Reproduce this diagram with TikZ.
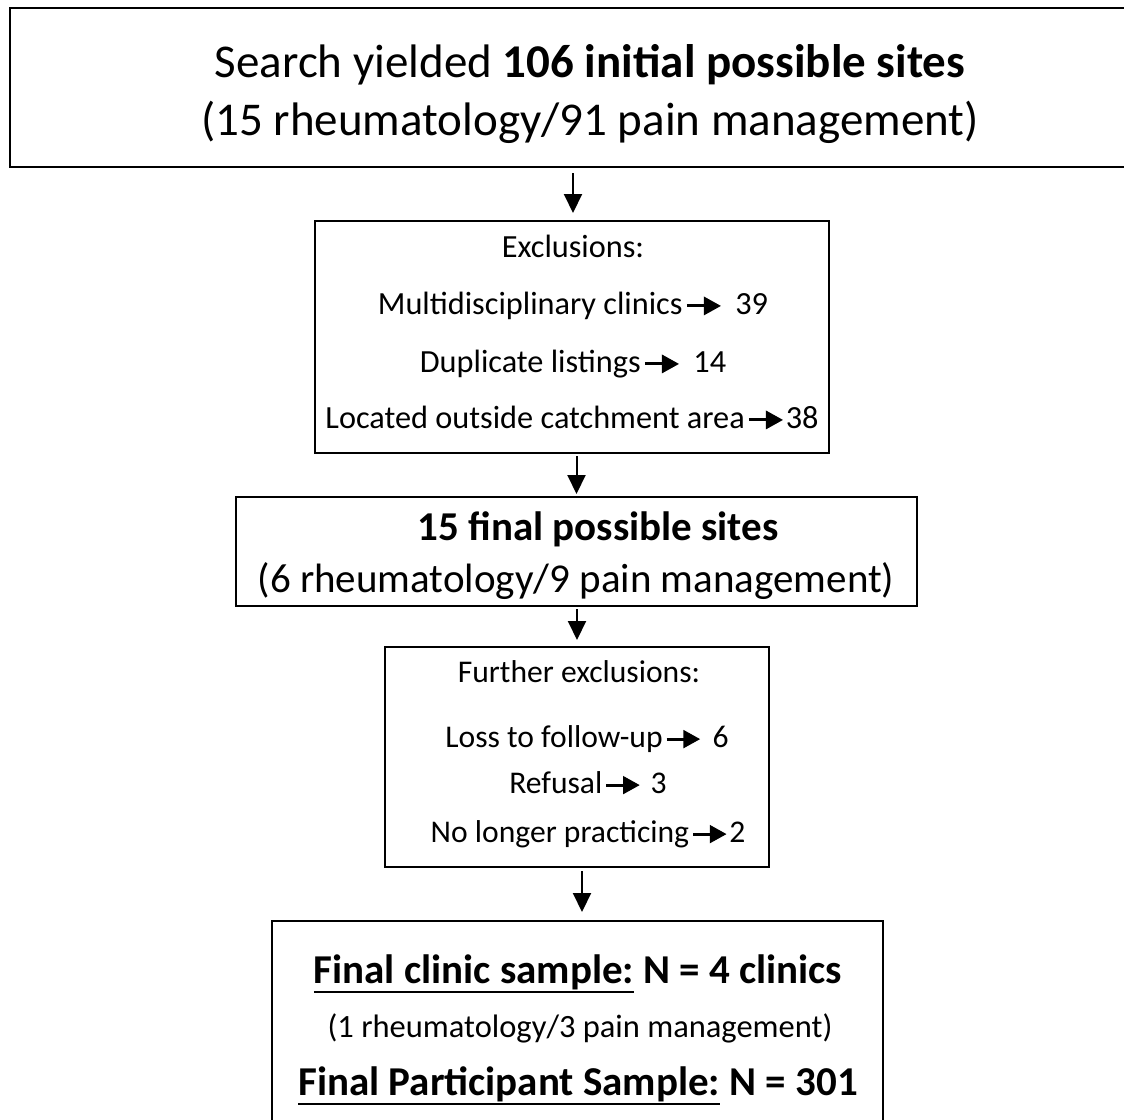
\documentclass[tikz,border=0pt]{standalone}
\usepackage{fontspec}
\setmainfont{Carlito}
\usetikzlibrary{arrows.meta}
\newcommand\inarr{\hspace{0.08em}\tikz[baseline=0pt,x=1em,y=1em]\draw[line width=0.09em,-{Triangle[length=0.53em,width=0.56em]}] (0,0.25) -- (1.06,0.25);}
\newcommand\ulx[1]{\setbox0\hbox{#1}\rlap{\rule[-10pt]{\wd0}{2.4pt}}\box0\relax}
\begin{document}
\begin{tikzpicture}[x=1pt,y=-1pt,
  box/.style={draw, line width=2pt, rectangle, inner sep=0pt},
  txt/.style={anchor=base, inner sep=0pt},
  conn/.style={line width=2pt, -{Triangle[width=18pt,length=19pt]}}]
\useasboundingbox (0,0) rectangle (1124,1119);
\fill[white] (0,0) rectangle (1124,1119);
% boxes
\node[box, minimum width=1130pt, minimum height=159pt] (b1) at (575,87.5) {};
\node[box, minimum width=514pt, minimum height=232pt] (b2) at (572,337) {};
\node[box, minimum width=681pt, minimum height=109pt] (b3) at (576.5,551.5) {};
\node[box, minimum width=384pt, minimum height=220pt] (b4) at (577,757) {};
\node[box, minimum width=611pt, minimum height=214pt] (b5) at (577.5,1028) {};
% box 1
\node[txt, font=\fontsize{47}{56}\selectfont] (t1a) at (590,77) {Search yielded \textbf{106 initial possible sites}};
\node[txt, font=\fontsize{47}{56}\selectfont] (t1b) at (590,135) {(15 rheumatology/91 pain management)};
% box 2
\node[txt, font=\fontsize{32.3}{38}\selectfont] (t2a) at (573,257) {Exclusions:};
\node[txt, font=\fontsize{32.3}{38}\selectfont] (t2b) at (573,314) {Multidisciplinary clinics\inarr\hspace{0.4em}39};
\node[txt, font=\fontsize{32.3}{38}\selectfont] (t2c) at (573,372) {Duplicate listings\inarr\hspace{0.4em}14};
\node[txt, font=\fontsize{32.3}{38}\selectfont] (t2d) at (572,428) {Located outside catchment area\inarr\hspace{0.04em}38};
% box 3
\node[txt, font=\fontsize{41}{49}\selectfont\bfseries] (t3a) at (598,540) {15 final possible sites};
\node[txt, font=\fontsize{41}{49}\selectfont] (t3b) at (576,592) {(6 rheumatology/9 pain management)};
% box 4
\node[txt, font=\fontsize{31.6}{37}\selectfont] (t4a) at (579,682) {Further exclusions:};
\node[txt, font=\fontsize{31.6}{37}\selectfont] (t4b) at (587,747) {Loss to follow-up\inarr\hspace{0.35em}6};
\node[txt, font=\fontsize{31.6}{37}\selectfont] (t4c) at (588,793) {Refusal\inarr\hspace{0.3em}3};
\node[txt, font=\fontsize{31.6}{37}\selectfont] (t4d) at (588,842) {No longer practicing\inarr\hspace{0.04em}2};
% box 5
\node[txt, font=\fontsize{41}{49}\selectfont\bfseries] (t5a) at (578,983) {\ulx{Final clinic sample:} N = 4 clinics};
\node[txt, font=\fontsize{32.5}{38}\selectfont] (t5b) at (580,1037) {(1 rheumatology/3 pain management)};
\node[txt, font=\fontsize{41}{49}\selectfont\bfseries] (t5c) at (578,1095) {\ulx{Final Participant Sample:} N = 301};
% connectors
\draw[conn, shorten <=5pt, shorten >=7pt] ([xshift=-2pt]b1.south) -- ([xshift=-2pt]b1.south |- b2.north);
\draw[conn, shorten <=2pt, shorten >=2pt] (b3.north |- b2.south) -- (b3.north);
\draw[conn, shorten <=2pt, shorten >=6pt] (b4.north |- b3.south) -- (b4.north);
\draw[conn, shorten <=3pt, shorten >=8pt] ([xshift=5pt]b4.south) -- ([xshift=5pt]b4.south |- b5.north);
\end{tikzpicture}
\end{document}
